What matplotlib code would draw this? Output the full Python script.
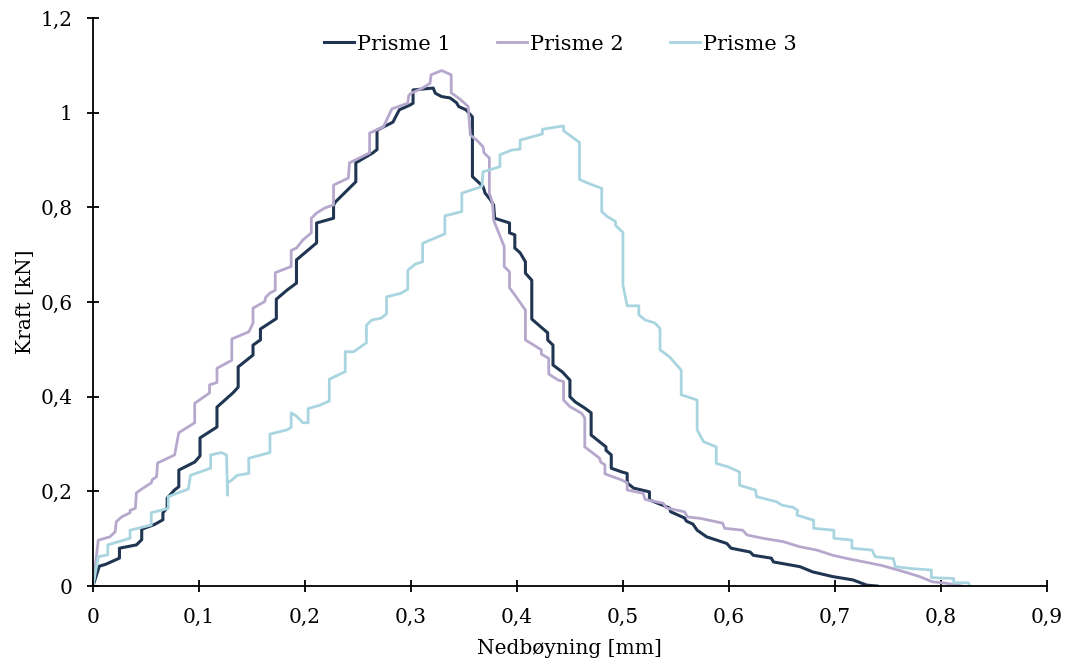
import numpy as np
import matplotlib
matplotlib.use('Agg')
import matplotlib.pyplot as plt
from matplotlib.ticker import FuncFormatter

# Prisme 1
p1_x = [0, 0.006, 0.012, 0.025, 0.025, 0.041, 0.046, 0.046, 0.058, 0.066, 0.066, 0.070, 0.070, 0.077, 0.081, 0.081,
        0.096, 0.101, 0.101, 0.117, 0.117, 0.132, 0.137, 0.137, 0.151, 0.151, 0.158, 0.158, 0.173, 0.173, 0.183, 0.192,
        0.192, 0.211, 0.211, 0.227, 0.227, 0.229, 0.248, 0.248, 0.264, 0.268, 0.268, 0.283, 0.289, 0.299, 0.302, 0.302,
        0.321, 0.323, 0.329, 0.337, 0.343, 0.345, 0.352, 0.358, 0.358, 0.368, 0.370, 0.375, 0.378, 0.379, 0.393, 0.393,
        0.398, 0.398, 0.403, 0.408, 0.408, 0.414, 0.414, 0.429, 0.429, 0.434, 0.434, 0.443, 0.450, 0.450, 0.455, 0.464,
        0.470, 0.470, 0.484, 0.484, 0.489, 0.489, 0.499, 0.504, 0.504, 0.510, 0.525, 0.525, 0.544, 0.545, 0.558, 0.560,
        0.566, 0.570, 0.579, 0.598, 0.602, 0.620, 0.623, 0.640, 0.642, 0.667, 0.679, 0.698, 0.717, 0.730, 0.740]
p1_y = [0, 0.042, 0.046, 0.059, 0.080, 0.087, 0.098, 0.120, 0.130, 0.140, 0.155, 0.165, 0.186, 0.203, 0.210, 0.245,
        0.262, 0.275, 0.313, 0.336, 0.378, 0.408, 0.420, 0.463, 0.488, 0.509, 0.520, 0.543, 0.565, 0.606, 0.625, 0.640,
        0.689, 0.725, 0.767, 0.777, 0.805, 0.812, 0.854, 0.894, 0.915, 0.922, 0.963, 0.980, 1.006, 1.016, 1.020, 1.048,
        1.052, 1.041, 1.034, 1.031, 1.021, 1.013, 1.006, 0.991, 0.865, 0.844, 0.830, 0.816, 0.805, 0.777, 0.767, 0.746,
        0.742, 0.714, 0.704, 0.685, 0.661, 0.646, 0.564, 0.535, 0.520, 0.509, 0.467, 0.452, 0.435, 0.400, 0.389, 0.376,
        0.366, 0.319, 0.294, 0.287, 0.277, 0.249, 0.241, 0.238, 0.218, 0.207, 0.199, 0.182, 0.165, 0.157, 0.144, 0.137,
        0.131, 0.118, 0.104, 0.090, 0.080, 0.072, 0.065, 0.059, 0.051, 0.041, 0.030, 0.020, 0.013, 0.002, 0.0]

# Prisme 2
p2_x = [0, 0.005, 0.016, 0.021, 0.022, 0.027, 0.035, 0.035, 0.040, 0.041, 0.046, 0.055, 0.056, 0.060, 0.061, 0.077,
        0.081, 0.096, 0.096, 0.110, 0.110, 0.117, 0.117, 0.131, 0.131, 0.147, 0.151, 0.151, 0.162, 0.163, 0.167, 0.172,
        0.172, 0.187, 0.187, 0.192, 0.198, 0.206, 0.206, 0.211, 0.219, 0.227, 0.227, 0.241, 0.242, 0.261, 0.261, 0.274,
        0.282, 0.297, 0.298, 0.301, 0.311, 0.318, 0.319, 0.329, 0.338, 0.338, 0.346, 0.354, 0.356, 0.362, 0.368, 0.369,
        0.374, 0.374, 0.377, 0.378, 0.388, 0.388, 0.393, 0.393, 0.398, 0.408, 0.408, 0.423, 0.423, 0.430, 0.430, 0.439,
        0.444, 0.444, 0.450, 0.461, 0.464, 0.464, 0.478, 0.479, 0.483, 0.483, 0.499, 0.504, 0.504, 0.519, 0.521, 0.538,
        0.541, 0.558, 0.561, 0.573, 0.594, 0.596, 0.613, 0.617, 0.632, 0.651, 0.667, 0.683, 0.698, 0.714, 0.730, 0.745,
        0.761, 0.780, 0.792, 0.805, 0.815, 0.820]
p2_y = [0, 0.097, 0.104, 0.115, 0.136, 0.146, 0.155, 0.160, 0.164, 0.197, 0.205, 0.218, 0.225, 0.231, 0.260, 0.277,
        0.324, 0.345, 0.386, 0.408, 0.425, 0.430, 0.460, 0.477, 0.522, 0.537, 0.555, 0.587, 0.601, 0.610, 0.619, 0.625,
        0.662, 0.675, 0.709, 0.714, 0.731, 0.746, 0.777, 0.788, 0.799, 0.805, 0.847, 0.862, 0.894, 0.915, 0.957, 0.970,
        1.008, 1.020, 1.037, 1.042, 1.052, 1.062, 1.080, 1.089, 1.080, 1.042, 1.029, 1.013, 0.953, 0.942, 0.928, 0.915,
        0.904, 0.830, 0.809, 0.773, 0.717, 0.675, 0.664, 0.630, 0.615, 0.583, 0.520, 0.499, 0.490, 0.481, 0.448, 0.435,
        0.432, 0.393, 0.379, 0.365, 0.355, 0.294, 0.270, 0.262, 0.256, 0.237, 0.224, 0.218, 0.203, 0.196, 0.183, 0.175,
        0.165, 0.157, 0.146, 0.143, 0.133, 0.122, 0.118, 0.108, 0.101, 0.094, 0.083, 0.076, 0.065, 0.057, 0.050, 0.043,
        0.033, 0.020, 0.009, 0.006, 0.002, 0.0]

# Prisme 3
p3_x = [0, 0.005, 0.014, 0.014, 0.035, 0.035, 0.055, 0.055, 0.071, 0.071, 0.090, 0.092, 0.101, 0.111, 0.111, 0.121,
        0.126, 0.127, 0.127, 0.131, 0.136, 0.147, 0.147, 0.167, 0.167, 0.183, 0.187, 0.187, 0.192, 0.198, 0.203, 0.203,
        0.214, 0.223, 0.223, 0.238, 0.238, 0.246, 0.258, 0.258, 0.263, 0.272, 0.277, 0.277, 0.290, 0.297, 0.297, 0.304,
        0.311, 0.311, 0.332, 0.332, 0.348, 0.348, 0.367, 0.368, 0.384, 0.384, 0.395, 0.403, 0.403, 0.424, 0.424, 0.444,
        0.444, 0.459, 0.459, 0.466, 0.480, 0.480, 0.485, 0.493, 0.493, 0.500, 0.500, 0.504, 0.515, 0.515, 0.521, 0.530,
        0.535, 0.535, 0.544, 0.555, 0.555, 0.570, 0.570, 0.576, 0.588, 0.588, 0.599, 0.610, 0.610, 0.625, 0.626, 0.645,
        0.650, 0.661, 0.665, 0.664, 0.680, 0.680, 0.699, 0.699, 0.716, 0.716, 0.735, 0.738, 0.755, 0.757, 0.772, 0.791,
        0.791, 0.812, 0.812, 0.826, 0.827]
p3_y = [0, 0.062, 0.066, 0.087, 0.101, 0.118, 0.129, 0.155, 0.164, 0.189, 0.205, 0.234, 0.241, 0.249, 0.277, 0.282,
        0.277, 0.192, 0.218, 0.224, 0.234, 0.238, 0.270, 0.282, 0.321, 0.330, 0.335, 0.366, 0.359, 0.345, 0.345, 0.375,
        0.382, 0.391, 0.437, 0.453, 0.495, 0.495, 0.514, 0.551, 0.562, 0.566, 0.575, 0.611, 0.618, 0.627, 0.667, 0.680,
        0.685, 0.724, 0.744, 0.782, 0.791, 0.830, 0.844, 0.875, 0.886, 0.911, 0.921, 0.923, 0.942, 0.955, 0.965, 0.972,
        0.962, 0.937, 0.859, 0.852, 0.840, 0.791, 0.781, 0.770, 0.762, 0.747, 0.636, 0.592, 0.592, 0.573, 0.562, 0.556,
        0.544, 0.499, 0.484, 0.456, 0.404, 0.393, 0.330, 0.305, 0.294, 0.259, 0.252, 0.241, 0.213, 0.203, 0.189, 0.178,
        0.171, 0.166, 0.159, 0.150, 0.139, 0.122, 0.118, 0.101, 0.097, 0.080, 0.076, 0.062, 0.058, 0.041, 0.037, 0.034,
        0.018, 0.016, 0.007, 0.007, 0.0]

labels = ['Prisme 1', 'Prisme 2', 'Prisme 3']
colors = ['#1f3552', '#b6a8cd', '#a9d5e0']
widths = [2.2, 2.0, 2.0]

plt.rcParams['font.family'] = ['DejaVu Serif']
fig = plt.figure(figsize=(10.66, 6.66), dpi=100)
ax = fig.add_axes([0.0872, 0.120, 0.8949, 0.853])

for xs, ys, lab, c, w in zip([p1_x, p2_x, p3_x], [p1_y, p2_y, p3_y], labels, colors, widths):
    ax.plot(xs, ys, color=c, lw=w, label=lab)

ax.set_xlim(0, 0.9)
ax.set_ylim(0, 1.2)
ax.set_xticks(np.arange(0, 0.91, 0.1))
ax.set_yticks(np.arange(0, 1.21, 0.2))
fmt = FuncFormatter(lambda v, p: ('%g' % round(v, 2)).replace('.', ','))
ax.xaxis.set_major_formatter(fmt)
ax.yaxis.set_major_formatter(fmt)
for s in ['top', 'right']:
    ax.spines[s].set_visible(False)
for s in ['left', 'bottom']:
    ax.spines[s].set_linewidth(1.3)
ax.tick_params(direction='inout', length=9, width=1.3, labelsize=14.5)
ax.tick_params(axis='x', pad=11)
ax.tick_params(axis='y', pad=10)

ax.set_xlabel('Nedbøyning [mm]', fontsize=14.5, labelpad=9)
ax.set_ylabel('Kraft [kN]', fontsize=14.5, labelpad=4)

ax.legend(loc='center', bbox_to_anchor=(0.49, 0.954), ncol=3, frameon=False, fontsize=15,
          handlelength=1.45, handletextpad=0.15, columnspacing=2.2)

fig.savefig('out.png', dpi=100)
